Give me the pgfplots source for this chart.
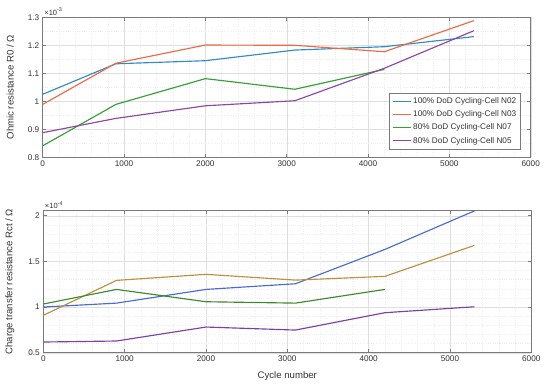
\documentclass[border=0pt]{standalone}
\usepackage{pgfplots}
\pgfplotsset{compat=1.18}
\usepackage{fontspec}
\setmainfont{Liberation Sans}
\definecolor{c1}{HTML}{2F8CC4}
\definecolor{c2}{HTML}{EE6A45}
\definecolor{c3}{HTML}{33A034}
\definecolor{c4}{HTML}{8E45A8}
\definecolor{d1}{HTML}{4A6CD0}
\definecolor{d2}{HTML}{BC903C}
\definecolor{d3}{HTML}{3D8A2E}
\definecolor{d4}{HTML}{7B40A8}
\definecolor{axc}{HTML}{7A7A7A}
\definecolor{txc}{HTML}{333333}
\pgfplotsset{
  myax/.style={
    scale only axis, width=488bp,
    xmin=0, xmax=6000,
    xtick={0,1000,...,6000},
    minor x tick num=4,
    tick align=inside,
    major tick length=3.5bp, minor tick length=0bp,
    axis line style={axc, line width=0.5bp},
    every tick/.style={axc, line width=0.5bp},
    grid=both,
    major grid style={gray!25, line width=0.4bp},
    minor grid style={gray!13, line width=0.3bp, dotted},
    tick label style={font=\fontsize{8.2bp}{9.8bp}\selectfont, text=txc},
    label style={font=\fontsize{9.6bp}{11bp}\selectfont, text=txc},
    /pgf/number format/assume math mode=true,
    /pgf/number format/1000 sep={},
    scaled ticks=false,
    every axis plot/.append style={line width=1.15bp, mark=none},
    ylabel style={at={(axis description cs:-0.052,0.5)}, anchor=south},
  }
}
\begin{document}
\begin{tikzpicture}
\path[use as bounding box] (-42.7bp,-232.7bp) rectangle (507.3bp,157.3bp);
\begin{axis}[myax, name=top,
  height=140bp,
  at={(0,0)}, anchor=south west,
  ymin=0.8, ymax=1.3,
  ytick={0.8,0.9,1,1.1,1.2,1.3},
  yticklabels={0.8,0.9,1,1.1,1.2,1.3},
  minor y tick num=1,
  ylabel={Ohmic resistance R0 / Ω},
  legend style={at={(0.98,0.057)}, anchor=south east,
    draw=axc, line width=0.5bp, fill=white,
    font=\fontsize{8.2bp}{9.5bp}\selectfont, text=txc,
    row sep=1.8bp, inner xsep=2.5bp, inner ysep=2.5bp},
  legend cell align=left,
  legend image code/.code={\draw[#1, line width=1.1bp] (0bp,0bp) -- (18bp,0bp);},
]
\addplot[c1] coordinates {(0,1.025) (900,1.134) (2000,1.145) (3100,1.183) (4200,1.195) (5300,1.231)};
\addlegendentry{100\% DoD Cycling-Cell N02}
\addplot[c2] coordinates {(0,0.989) (900,1.136) (2000,1.201) (3100,1.200) (4200,1.177) (5300,1.288)};
\addlegendentry{100\% DoD Cycling-Cell N03}
\addplot[c3] coordinates {(0,0.841) (900,0.989) (2000,1.081) (3100,1.043) (4200,1.114)};
\addlegendentry{80\% DoD Cycling-Cell N07}
\addplot[c4] coordinates {(0,0.888) (900,0.939) (2000,0.984) (3100,1.002) (4200,1.118) (5300,1.252)};
\addlegendentry{80\% DoD Cycling-Cell N05}
\end{axis}
\node[anchor=south west, inner sep=0pt, font=\fontsize{7.5bp}{8bp}\selectfont, text=txc] at ([xshift=1.5bp, yshift=1.5bp]top.north west) {×10\raisebox{0.9ex}{\fontsize{5.5bp}{6bp}\selectfont -3}};
\begin{axis}[myax, name=bot,
  height=142bp,
  at={(0.6bp,-195.4bp)}, anchor=south west,
  ymin=0.5, ymax=2.055,
  ytick={0.5,1,1.5,2},
  yticklabels={0.5,1,1.5,2},
  minor y tick num=4,
  ylabel={Charge transfer resistance Rct / Ω},
  xlabel={Cycle number},
  xlabel style={yshift=-3bp},
]
\addplot[d1] coordinates {(0,1.000) (900,1.043) (2000,1.193) (3100,1.255) (4200,1.631) (5300,2.053)};
\addplot[d2] coordinates {(0,0.909) (900,1.292) (2000,1.358) (3100,1.295) (4200,1.336) (5300,1.675)};
\addplot[d3] coordinates {(0,1.033) (900,1.193) (2000,1.058) (3100,1.043) (4200,1.193)};
\addplot[d4] coordinates {(0,0.617) (900,0.628) (2000,0.781) (3100,0.748) (4200,0.938) (5300,1.003)};
\end{axis}
\node[anchor=south west, inner sep=0pt, font=\fontsize{7.5bp}{8bp}\selectfont, text=txc] at ([xshift=1.5bp, yshift=1.5bp]bot.north west) {×10\raisebox{0.9ex}{\fontsize{5.5bp}{6bp}\selectfont -4}};
\end{tikzpicture}
\end{document}
